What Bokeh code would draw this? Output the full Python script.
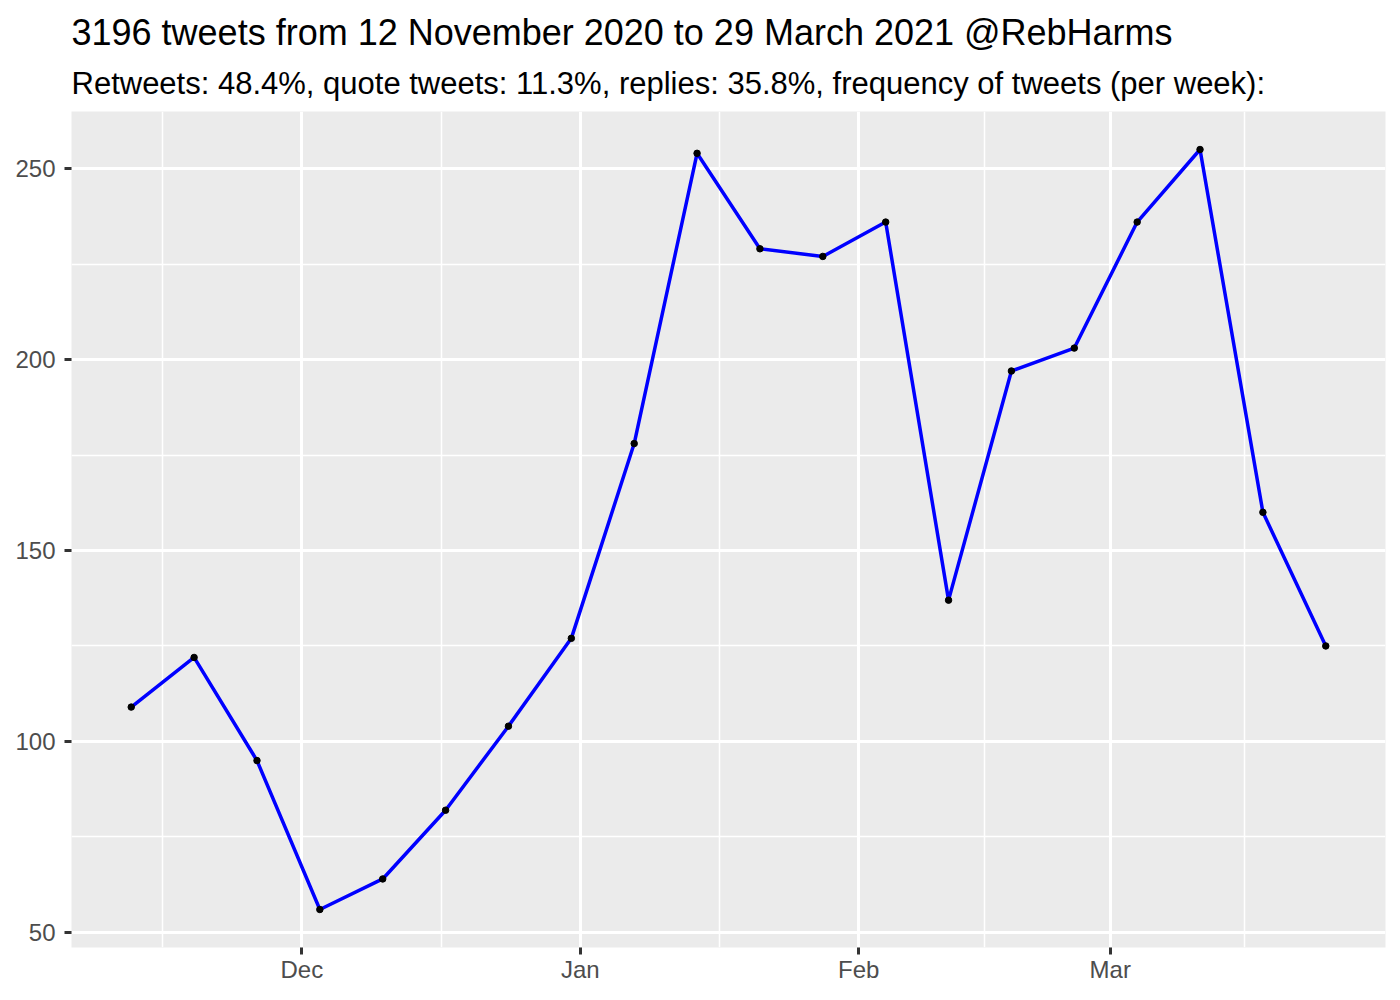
import pandas as pd
from bokeh.plotting import figure
from bokeh.models import FixedTicker, Range1d, Title
from bokeh.embed import file_html
from bokeh.resources import INLINE

# ---- data ----
week_dates = ["2020-11-12", "2020-11-19", "2020-11-26", "2020-12-03", "2020-12-10",
              "2020-12-17", "2020-12-24", "2020-12-31", "2021-01-07", "2021-01-14",
              "2021-01-21", "2021-01-28", "2021-02-04", "2021-02-11", "2021-02-18",
              "2021-02-25", "2021-03-04", "2021-03-11", "2021-03-18", "2021-03-25"]
tweet_counts = [109, 122, 95, 56, 64, 82, 104, 127, 178, 254,
                229, 227, 236, 137, 197, 203, 236, 255, 160, 125]

x_tick_dates = ["2020-12-01", "2021-01-01", "2021-02-01", "2021-03-01"]
x_tick_labels = ["Dec", "Jan", "Feb", "Mar"]
x_minor_dates = ["2020-11-15 12:00", "2020-12-16 12:00", "2021-01-16 12:00", "2021-02-15", "2021-03-16"]
y_ticks = [50, 100, 150, 200, 250]
y_minor = [75, 125, 175, 225]

title_text = "3196 tweets from 12 November 2020 to 29 March 2021 @RebHarms"
subtitle_text = "Retweets: 48.4%, quote tweets: 11.3%, replies: 35.8%, frequency of tweets (per week):"

# ---- convert dates to day numbers ----
origin = pd.Timestamp("2020-11-01")
def days(s):
    return (pd.Timestamp(s) - origin) / pd.Timedelta(days=1)

xs = [days(d) for d in week_dates]
xt = [days(d) for d in x_tick_dates]
xm = [days(d) for d in x_minor_dates]

xmin, xmax = min(xs), max(xs)
ymin, ymax = min(tweet_counts), max(tweet_counts)
xpad = (xmax - xmin) * 0.05
ypad = (ymax - ymin) * 0.05

FONT = "Liberation Sans"

p = figure(frame_width=1314, frame_height=836,
           min_border_left=71, min_border_right=7,
           min_border_top=111, min_border_bottom=45,
           x_range=Range1d(xmin - xpad, xmax + xpad),
           y_range=Range1d(ymin - ypad, ymax + ypad),
           output_backend="svg", toolbar_location=None)

p.background_fill_color = "#EBEBEB"
p.border_fill_color = "white"
p.outline_line_color = None

# titles (p.title is the outer one; added Title sits nearer the frame)
p.title.text = title_text
p.title.text_font = FONT
p.title.text_font_size = "36px"
p.title.text_font_style = "normal"
p.title.text_color = "black"
p.title.align = "left"
p.title.offset = 0
p.title.standoff = 0
p.title.text_line_height = 0.65
p.title.padding = dict(left=0, right=0, top=4, bottom=0)
sub_title = Title(text=subtitle_text, text_font=FONT, text_font_size="31px",
                  text_font_style="normal", text_color="black", align="left",
                  offset=0, standoff=22)
p.add_layout(sub_title, "above")

# axes
p.xaxis.ticker = FixedTicker(ticks=xt, minor_ticks=xm)
p.xaxis.major_label_overrides = {t: lab for t, lab in zip(xt, x_tick_labels)}
p.yaxis.ticker = FixedTicker(ticks=y_ticks, minor_ticks=y_minor)

for ax in (p.xaxis, p.yaxis):
    ax.axis_line_color = None
    ax.major_tick_line_color = "#333333"
    ax.major_tick_line_width = 3
    ax.major_tick_out = 7
    ax.major_tick_in = 0
    ax.minor_tick_line_color = None
    ax.major_label_text_font = FONT
    ax.major_label_text_font_size = "24px"
    ax.major_label_text_color = "#4D4D4D"
p.yaxis.major_label_standoff = 9
p.xaxis.major_label_standoff = 1

# grids
for g in (p.xgrid, p.ygrid):
    g.grid_line_color = "white"
    g.grid_line_width = 3
    g.minor_grid_line_color = "white"
    g.minor_grid_line_width = 1.5

# data
p.line(xs, tweet_counts, line_color="#0000FF", line_width=3.5)
p.scatter(xs, tweet_counts, size=6.5, fill_color="black", line_color="black")

open("out.html", "w").write(file_html(p, INLINE))
